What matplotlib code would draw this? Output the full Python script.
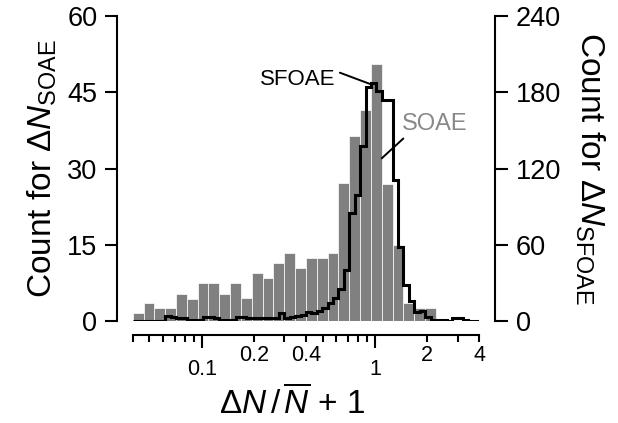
import matplotlib
matplotlib.use("Agg")
import matplotlib.pyplot as plt
import numpy as np
from matplotlib.ticker import FixedLocator, FixedFormatter

plt.rcParams['font.family'] = ['Liberation Sans', 'DejaVu Sans']
plt.rcParams['mathtext.fontset'] = 'custom'
plt.rcParams['mathtext.rm'] = 'Liberation Sans'
plt.rcParams['mathtext.it'] = 'Liberation Sans:italic'
plt.rcParams['mathtext.bf'] = 'Liberation Sans:bold'

# x range of both histograms (log-spaced bins)
x_lo, x_hi = 0.04, 4.0

# SOAE counts, 32 log bins (left axis)
soae_counts = [1.5, 3.5, 2.5, 2.5, 5.4, 4.3, 7.4, 7.4, 5.4, 7.4, 4.5, 9.4,
               8.4, 11.4, 13.3, 10.4, 12.3, 12.3, 13.3, 27.2, 36.3, 41.5,
               50.5, 27.0, 15.0, 3.5, 2.5, 2.5, 0, 0, 0, 0]

# SFOAE counts, 64 log bins (right axis)
sfoae_counts = [0, 0, 0, 0, 0, 0, 4, 3, 2, 2, 1, 1, 1, 3, 3, 2,
                1, 1, 1, 3, 3, 2, 2, 2, 2, 2, 2, 6, 2, 3, 4, 5,
                7, 6, 8, 10, 14, 18, 25, 40, 85, 99, 138, 184, 187, 181,
                174, 174, 111, 58, 28, 16, 7, 8, 3, 1, 1, 1, 0, 2, 2, 1,
                0, 0]

major_ticks = [0.1, 1]
major_labels = ['0.1', '1']
minor_ticks = [0.04, 0.05, 0.06, 0.07, 0.08, 0.09, 0.2, 0.3, 0.4, 0.5,
               0.6, 0.7, 0.8, 0.9, 2, 3, 4]
minor_labels = ['', '', '', '', '', '', '0.2', '', '0.4', '', '', '', '',
                '', '2', '', '4']

soae_edges = np.logspace(np.log10(x_lo), np.log10(x_hi), len(soae_counts) + 1)
sfoae_edges = np.logspace(np.log10(x_lo), np.log10(x_hi), len(sfoae_counts) + 1)

fig = plt.figure(figsize=(6.18, 4.23), dpi=100)
ax = fig.add_axes([0.2147, 0.2411, 0.5608, 0.7210])
ax2 = ax.twinx()

# gray SOAE bars
ax.bar(soae_edges[:-1], soae_counts, width=np.diff(soae_edges), align='edge',
       color='#808080', edgecolor='white', linewidth=0.5, zorder=1)

# black SFOAE outline
ax2.stairs(sfoae_counts, sfoae_edges, color='black', linewidth=2.2, baseline=0)

ax.set_xscale('log')
ax.set_xlim(x_lo, x_hi)
ax.set_ylim(0, 60)
ax2.set_ylim(0, 240)

ax.xaxis.set_major_locator(FixedLocator(major_ticks))
ax.xaxis.set_major_formatter(FixedFormatter(major_labels))
ax.xaxis.set_minor_locator(FixedLocator(minor_ticks))
ax.xaxis.set_minor_formatter(FixedFormatter(minor_labels))
ax.set_yticks([0, 15, 30, 45, 60])
ax2.set_yticks([0, 60, 120, 180, 240])

# spines
for s in ['top', 'right']:
    ax.spines[s].set_visible(False)
for s in ['top', 'left', 'bottom']:
    ax2.spines[s].set_visible(False)
ax.spines['left'].set_position(('outward', 11.5))
ax.spines['bottom'].set_position(('outward', 10))
ax2.spines['right'].set_position(('outward', 11.5))
for sp in [ax.spines['left'], ax.spines['bottom'], ax2.spines['right']]:
    sp.set_linewidth(1.5)

ax.tick_params(axis='y', direction='out', length=9, width=1.5, pad=5,
               labelsize=19.5)
ax2.tick_params(axis='y', direction='out', length=9, width=1.5, pad=6,
                labelsize=19.5)
ax.tick_params(axis='x', which='major', direction='out', length=9.5,
               width=1.5, pad=8, labelsize=15.5)
ax.tick_params(axis='x', which='minor', direction='out', length=5,
               width=1.5, pad=2, labelsize=15.5)

ax.set_xlabel(r'$\Delta N\,/\,\overline{N}$ + 1', fontsize=24, labelpad=4)
ax.xaxis.label.set_x(0.46)
ax.set_ylabel(r'Count for $\Delta N_{\mathrm{SOAE}}$', fontsize=24,
              labelpad=6)
ax2.set_ylabel(r'Count for $\Delta N_{\mathrm{SFOAE}}$', fontsize=24,
               rotation=270, va='bottom', labelpad=8)

# labels with pointer lines
ax2.annotate('SFOAE', xy=(0.96, 186), xytext=(0.36, 190),
             ha='center', va='center', fontsize=16,
             arrowprops=dict(arrowstyle='-', color='black', lw=1.4,
                             shrinkA=1, shrinkB=0, relpos=(1.0, 0.9)))
ax.annotate('SOAE', xy=(1.094, 32.0), xytext=(2.22, 38.8),
            ha='center', va='center', fontsize=17, color='#888888',
            arrowprops=dict(arrowstyle='-', color='black', lw=1.4,
                            shrinkA=1, shrinkB=0, relpos=(0.08, 0.0)))

fig.savefig('out.png', dpi=100)
